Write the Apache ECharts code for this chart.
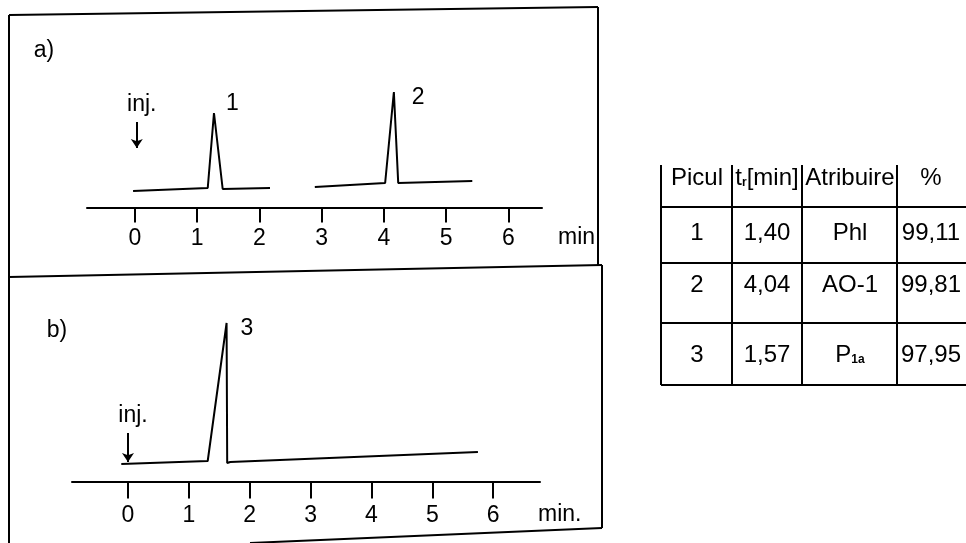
<!DOCTYPE html>
<html><head><meta charset="utf-8">
<script src="https://cdn.jsdelivr.net/npm/echarts@6/dist/echarts.min.js"></script>
<style>html,body{margin:0;padding:0;background:#fff}#c{width:966px;height:543px}</style>
</head><body><div id="c"></div>
<script>
// ---- data ----
const tickValues = [0, 1, 2, 3, 4, 5, 6];
const tickLabels = ['0', '1', '2', '3', '4', '5', '6'];
// chromatogram a) : [time (min), signal]
const traceA1 = [[-0.03, 16.5], [1.17, 19.5], [1.27, 94.5], [1.41, 18.5], [2.17, 19.5]];
const traceA2 = [[2.89, 20.5], [4.02, 24.5], [4.16, 115.5], [4.23, 24.5], [5.42, 26.5]];
// chromatogram b)
const traceB = [[-0.11, 17.5], [1.31, 20.5], [1.62, 158.5], [1.63, 18.5], [1.68, 19.5], [5.75, 29.5]];
const peakLabels = ['1', '2', '3'];
// injection arrows: [time, signal top, signal tip]
const injA = [0.03, 85.5, 59.5];
const injB = [0.0, 48.5, 19.5];
const injText = 'inj.';
const axisNameA = 'min';
const axisNameB = 'min.';
// table
const tableHeader = ['Picul', '{n|t}{s|r}{n|[min]}', 'Atribuire', '%'];
const peakNo = ['1', '2', '3'];
const retTime = ['1,40', '4,04', '1,57'];
const assignment = ['Phl', 'AO-1', '{n|P}{s|1a}'];
const percent = ['99,11', '99,81', '97,95'];

// ---- chart ----
const FONT = 'Liberation Sans, Arial, sans-serif';
const FS = 23, TFS = 24;
const chart = echarts.init(document.getElementById('c'), null, {renderer: 'canvas'});

function apex(tr) { return tr.reduce((m, p) => p[1] > m[1] ? p : m, tr[0]); }
function tickFmt(v) { const i = tickValues.indexOf(Math.round(v)); return i >= 0 ? tickLabels[i] : ''; }

function xAxisCfg(grid, min, max, name, nameGap, padTop) {
  return {
    gridIndex: grid, type: 'value', min: min, max: max,
    axisLine: {show: true, onZero: false, lineStyle: {color: '#000', width: 2}},
    axisTick: {show: true, customValues: tickValues, length: grid === 0 ? 15 : 17, lineStyle: {color: '#000', width: 2}},
    axisLabel: {customValues: tickValues, formatter: tickFmt, color: '#000', fontSize: FS, fontFamily: FONT,
      margin: grid === 0 ? 20 : 23},
    splitLine: {show: false},
    name: name, nameLocation: 'end', nameGap: nameGap,
    nameTextStyle: {color: '#000', fontSize: FS, fontFamily: FONT, align: 'left', verticalAlign: 'top',
      padding: [padTop, 0, 0, 0]}
  };
}

const lineStyle = {color: '#000', width: 2};
function peakMark(tr, lbl, dist, off) {
  return {
    symbol: 'circle', symbolSize: 0, silent: true,
    label: {show: true, position: 'right', distance: dist, offset: off, formatter: '{c}',
      color: '#000', fontSize: FS, fontFamily: FONT},
    data: [{coord: apex(tr), value: lbl}]
  };
}
function injMark(inj) {
  return {
    silent: true, symbol: ['none', 'arrow'], symbolSize: 9,
    lineStyle: {color: '#000', width: 2, type: 'solid'},
    label: {show: true, position: 'start', formatter: injText, distance: 6, color: '#000',
      fontSize: FS, fontFamily: FONT, padding: [0, 0, 0, 10]},
    data: [[{coord: [inj[0], inj[1]]}, {coord: [inj[0], inj[2]]}]]
  };
}

// table graphics
const colX = [661, 732, 802, 897, 966];
const rowY = [165, 207, 263, 323, 385];
const textCx = [697, 767, 850, 931];
const textCy = [178, 233, 285, 355];
const g = [];
colX.slice(0, 4).forEach(x => g.push({type: 'line', shape: {x1: x, y1: rowY[0], x2: x, y2: rowY[4]}, style: {stroke: '#000', lineWidth: 2}}));
rowY.slice(1).forEach(y => g.push({type: 'line', shape: {x1: colX[0], y1: y, x2: colX[4], y2: y}, style: {stroke: '#000', lineWidth: 2}}));
const rich = {n: {fontSize: TFS, fontFamily: FONT, fill: '#000'}, s: {fontSize: 12, fontFamily: FONT, fill: '#000', fontWeight: 'bold', padding: [10, 0, 0, 0]}};
const rows = [tableHeader];
for (let i = 0; i < peakNo.length; i++) rows.push([peakNo[i], retTime[i], assignment[i], percent[i]]);
rows.forEach((r, ri) => r.forEach((t, ci) => g.push({
  type: 'text', x: textCx[ci], y: textCy[ri],
  style: {text: t, fontSize: TFS, fontFamily: FONT, fill: '#000', align: 'center', verticalAlign: 'middle', rich: rich}
})));
// panel frames
const frame = [
  [[9, 15], [9, 543]], [[9, 15], [598, 7]], [[598, 7], [598, 266]],
  [[9, 277], [602, 265]], [[602, 265], [602, 528]], [[250, 543], [602, 528]]
];
frame.forEach(f => g.push({type: 'polyline', shape: {points: f}, style: {stroke: '#000', lineWidth: 2, fill: null}}));
g.push({type: 'text', x: 44, y: 51, style: {text: 'a)', fontSize: FS, fontFamily: FONT, fill: '#000', align: 'center', verticalAlign: 'middle'}});
g.push({type: 'text', x: 57, y: 331, style: {text: 'b)', fontSize: FS, fontFamily: FONT, fill: '#000', align: 'center', verticalAlign: 'middle'}});

chart.setOption({
  animation: false,
  backgroundColor: '#fff',
  grid: [
    {left: 87, top: 77.5, width: 455, height: 130},
    {left: 72, top: 311.5, width: 468, height: 170}
  ],
  xAxis: [
    xAxisCfg(0, -0.77, 6.54, axisNameA, 16, 19),
    xAxisCfg(1, -0.92, 6.77, axisNameB, -2, 22)
  ],
  yAxis: [
    {gridIndex: 0, type: 'value', min: 0, max: 130, show: false},
    {gridIndex: 1, type: 'value', min: 0, max: 170, show: false}
  ],
  series: [
    {type: 'line', xAxisIndex: 0, yAxisIndex: 0, data: traceA1, symbol: 'none', lineStyle: lineStyle,
      markPoint: peakMark(traceA1, peakLabels[0], 12, [0, -9]), markLine: injMark(injA)},
    {type: 'line', xAxisIndex: 0, yAxisIndex: 0, data: traceA2, symbol: 'none', lineStyle: lineStyle,
      markPoint: peakMark(traceA2, peakLabels[1], 18, [0, 6])},
    {type: 'line', xAxisIndex: 1, yAxisIndex: 1, data: traceB, symbol: 'none', lineStyle: lineStyle,
      markPoint: peakMark(traceB, peakLabels[2], 14, [0, 6]), markLine: injMark(injB)}
  ],
  graphic: g
});
</script></body></html>
